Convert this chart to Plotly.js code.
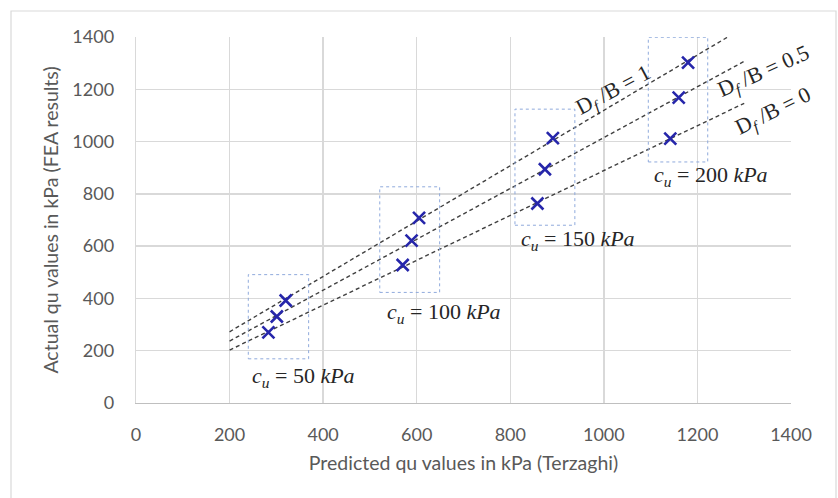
<!DOCTYPE html>
<html>
<head>
<meta charset="utf-8">
<script src="https://cdn.plot.ly/plotly-3.0.1.min.js"></script>
<style>
  html, body { margin: 0; padding: 0; background: #ffffff; }
  #chart { width: 838px; height: 498px; }
</style>
</head>
<body>
<div id="chart"></div>
<script>
// Bearing capacity: Terzaghi prediction vs FEA results, grouped by undrained shear strength
const dfRatios = ['1', '0.5', '0'];

// Predicted qu (Terzaghi), one array per embedment ratio Df/B, ordered cu = 50, 100, 150, 200 kPa
const predDf1  = [320, 605, 891, 1180];
const predDf05 = [301, 589, 874, 1160];
const predDf0  = [283, 570, 858, 1142];

// Actual qu (FEA results)
const feaDf1   = [392, 708, 1013, 1302];
const feaDf05  = [331, 621, 894, 1168];
const feaDf0   = [270, 528, 763, 1011];

// Extent of the linear trendlines
const trendFrom = 200;
const trendTo = 1300;

// Shear strength groups and the boxes framing each group
const cuValues = [50, 100, 150, 200];
const boxX0 = [240, 521, 810, 1095];
const boxX1 = [369, 649, 938, 1222];
const boxY0 = [169, 423, 680, 922];
const boxY1 = [491, 827, 1124, 1399];

// Group label anchors
const cuLabelX = [244, 533, 818, 1103];
const cuLabelY = [100, 345, 625, 867];

// Df/B label anchors and angles
const dfLabelX = [1020, 1342, 1362];
const dfLabelY = [1195, 1268, 1114];
const dfLabelAngle = [-28, -24, -26];

const xTicks = [0, 200, 400, 600, 800, 1000, 1200, 1400];
const yTicks = [0, 200, 400, 600, 800, 1000, 1200, 1400];

const seriesX = [predDf1, predDf05, predDf0];
const seriesY = [feaDf1, feaDf05, feaDf0];

// least-squares fit y = a + b x
function fitLine(xs, ys) {
  const n = xs.length;
  const mx = xs.reduce((s, v) => s + v, 0) / n;
  const my = ys.reduce((s, v) => s + v, 0) / n;
  let sxy = 0, sxx = 0;
  for (let i = 0; i < n; i++) {
    sxy += (xs[i] - mx) * (ys[i] - my);
    sxx += (xs[i] - mx) * (xs[i] - mx);
  }
  const b = sxy / sxx;
  return { a: my - b * mx, b: b };
}

const traces = [];
seriesX.forEach((xs, i) => {
  const f = fitLine(xs, seriesY[i]);
  traces.push({
    x: [trendFrom, trendTo],
    y: [f.a + f.b * trendFrom, f.a + f.b * trendTo],
    mode: 'lines',
    line: { color: '#404040', width: 1.4, dash: '4px,3px' },
    hoverinfo: 'skip',
    showlegend: false
  });
});
seriesX.forEach((xs, i) => {
  traces.push({
    x: xs,
    y: seriesY[i],
    mode: 'markers',
    name: 'Df/B = ' + dfRatios[i],
    marker: { symbol: 'x-thin', size: 12, line: { color: '#2626AA', width: 2.6 } },
    showlegend: false
  });
});

const shapes = cuValues.map((cu, i) => ({
  type: 'rect', xref: 'x', yref: 'y',
  x0: boxX0[i], x1: boxX1[i], y0: boxY0[i], y1: boxY1[i],
  line: { color: '#8FAADC', width: 1, dash: 'dot' },
  fillcolor: 'rgba(0,0,0,0)'
}));

// chart-area frame
const plotL = 136, plotR = 791, plotT = 37, plotB = 403;
const pw = plotR - plotL, ph = plotB - plotT;
shapes.push({
  type: 'rect', xref: 'paper', yref: 'paper',
  x0: (11 - plotL) / pw, x1: (836 - plotL) / pw,
  y0: (plotB - 510) / ph, y1: (plotB - 11) / ph,
  line: { color: '#D9D9D9', width: 1.2 },
  layer: 'below'
});

const mathFont = { family: 'Liberation Serif, DejaVu Serif, serif', size: 22, color: '#262626' };

const annotations = [];
cuValues.forEach((cu, i) => {
  annotations.push({
    x: cuLabelX[i], y: cuLabelY[i], xref: 'x', yref: 'y',
    text: '<i>c</i><sub><i>u</i></sub> = ' + cu + ' <i>kPa</i>',
    showarrow: false, xanchor: 'left', yanchor: 'middle',
    font: mathFont
  });
});
dfRatios.forEach((r, i) => {
  annotations.push({
    x: dfLabelX[i], y: dfLabelY[i], xref: 'x', yref: 'y',
    text: 'D<sub><i>f</i></sub> /B = ' + r,
    showarrow: false, textangle: dfLabelAngle[i],
    font: mathFont
  });
});

const tickFont = { family: 'Lato, Open Sans, sans-serif', size: 18, color: '#595959' };
const titleFont = { family: 'Lato, Open Sans, sans-serif', size: 19.5, color: '#595959' };

const layout = {
  width: 838, height: 498,
  margin: { l: plotL, r: 838 - plotR, t: plotT, b: 498 - plotB, pad: 0 },
  paper_bgcolor: '#ffffff',
  plot_bgcolor: '#ffffff',
  showlegend: false,
  xaxis: {
    range: [0, 1400], tickvals: xTicks, ticktext: xTicks.map(String),
    showgrid: true, gridcolor: '#D9D9D9', gridwidth: 1.3,
    showline: true, linecolor: '#BFBFBF', linewidth: 1.3,
    zeroline: false,
    ticks: 'outside', ticklen: 15, tickcolor: 'rgba(0,0,0,0)',
    tickfont: tickFont,
    title: { text: 'Predicted qu values in kPa (Terzaghi)', font: titleFont, standoff: 12 }
  },
  yaxis: {
    range: [0, 1400], tickvals: yTicks, ticktext: yTicks.map(String),
    showgrid: true, gridcolor: '#D9D9D9', gridwidth: 1.3,
    showline: true, linecolor: '#D9D9D9', linewidth: 1.3,
    zeroline: false,
    ticks: 'outside', ticklen: 17, tickcolor: 'rgba(0,0,0,0)',
    tickfont: tickFont,
    title: { text: 'Actual qu values in kPa (FEA results)', font: titleFont, standoff: 8 }
  },
  shapes: shapes,
  annotations: annotations
};

Plotly.newPlot('chart', traces, layout, { displayModeBar: false, staticPlot: true });
</script>
</body>
</html>
